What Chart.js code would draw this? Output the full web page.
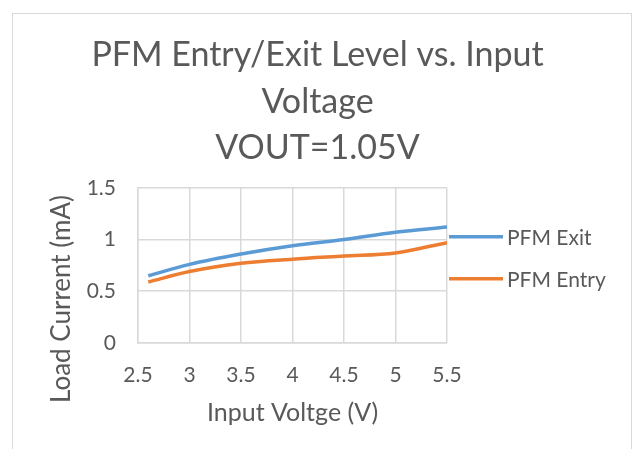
<!DOCTYPE html>
<html>
<head>
<meta charset="utf-8">
<script src="https://cdn.jsdelivr.net/npm/chart.js@4/dist/chart.umd.min.js"></script>
<style>
  html, body { margin: 0; padding: 0; background: #fff; }
  #wrap { position: relative; width: 634px; height: 449px; overflow: hidden; }
  #frame { position: absolute; left: 12px; top: 13px; width: 620px; height: 450px; border: 1px solid #d9d9d9; box-sizing: border-box; }
  canvas { position: absolute; left: 0; top: 0; }
</style>
</head>
<body>
<div id="wrap">
  <div id="frame"></div>
  <canvas id="chart" width="634" height="449"></canvas>
</div>
<script>
const inputVoltage = [2.6, 3, 3.5, 4, 4.5, 5, 5.5];
const pfmExit = [0.65, 0.76, 0.86, 0.94, 1.0, 1.07, 1.12];
const pfmEntry = [0.59, 0.69, 0.77, 0.81, 0.84, 0.87, 0.97];
const xTicks = [2.5, 3, 3.5, 4, 4.5, 5, 5.5];
const yTicks = [0, 0.5, 1, 1.5];
const titleLines = ["PFM Entry/Exit Level vs. Input", "Voltage", "VOUT=1.05V"];
const yTitle = 'Load Current (mA)';

const gris = '#595959';
const fonte = 'Lato, "Open Sans", sans-serif';

let pontos = (ys) => inputVoltage.map((x, i) => ({ x: x, y: ys[i] }));

// legenda e titulo do eixo y desenhados a mao
const extras = {
    id: 'extras',
    afterDraw(chart) {
        const c = chart.ctx;
        const area = chart.chartArea;
        const x0 = area.right + 2;
        const ys = [area.top + 49, area.top + 91];
        c.save();
        c.font = '21px ' + fonte;
        c.textBaseline = 'middle';
        c.textAlign = 'left';
        chart.data.datasets.forEach((ds, i) => {
            c.strokeStyle = ds.borderColor;
            c.lineWidth = 3.5;
            c.beginPath();
            c.moveTo(x0, ys[i]);
            c.lineTo(x0 + 54, ys[i]);
            c.stroke();
            c.fillStyle = gris;
            c.fillText(ds.label, x0 + 58, ys[i] + 1);
        });
        // titulo do eixo y (o Excel o centra mais abaixo)
        c.translate(62, area.bottom - 44);
        c.rotate(-Math.PI / 2);
        c.font = '26px ' + fonte;
        c.textAlign = 'center';
        c.fillText(yTitle, 0, 0);
        c.restore();
    }
};

const ctx = document.getElementById('chart').getContext('2d');
let grafico = new Chart(ctx, {
    type: 'scatter',
    data: {
        datasets: [{
            label: 'PFM Exit',
            data: pontos(pfmExit),
            showLine: true,
            borderColor: '#5b9bd5',
            backgroundColor: '#5b9bd5',
            borderWidth: 3.5,
            pointRadius: 0,
            cubicInterpolationMode: 'monotone'
        }, {
            label: 'PFM Entry',
            data: pontos(pfmEntry),
            showLine: true,
            borderColor: '#ed7d31',
            backgroundColor: '#ed7d31',
            borderWidth: 3.5,
            pointRadius: 0,
            cubicInterpolationMode: 'monotone'
        }]
    },
    options: {
        responsive: false,
        animation: false,
        layout: { padding: { left: 44, right: 43, top: 32, bottom: 17 } },
        plugins: {
            title: {
                display: true,
                text: titleLines,
                color: gris,
                font: { family: fonte, size: 34, weight: 'normal', lineHeight: 1.37 },
                padding: { top: 0, bottom: 16 }
            },
            legend: { display: false },
            tooltip: { enabled: false }
        },
        scales: {
            x: {
                type: 'linear',
                min: 2.5,
                max: 5.5,
                afterBuildTicks: (ax) => { ax.ticks = xTicks.map(v => ({ value: v })); },
                afterFit: (s) => { s.height = 89; },
                ticks: {
                    color: gris,
                    font: { family: fonte, size: 21 },
                    padding: 20,
                    maxRotation: 0,
                    callback: (v) => String(v)
                },
                grid: { color: '#d9d9d9', lineWidth: 1.5, drawTicks: false },
                border: { color: '#d9d9d9', width: 1.5 },
                title: {
                    display: true,
                    text: 'Input Voltge (V)',
                    color: gris,
                    font: { family: fonte, size: 25 },
                    padding: { top: 4, bottom: 4 }
                }
            },
            y: {
                min: 0,
                max: 1.5,
                afterBuildTicks: (ax) => { ax.ticks = yTicks.map(v => ({ value: v })); },
                afterFit: (s) => { s.width = 94; },
                ticks: {
                    color: gris,
                    font: { family: fonte, size: 21 },
                    padding: 22,
                    callback: (v) => String(v)
                },
                grid: { color: '#d9d9d9', lineWidth: 1.5, drawTicks: false },
                border: { color: '#d9d9d9', width: 1.5 }
            },
            // espaco vazio a direita para a legenda
            espaco: {
                type: 'linear',
                position: 'right',
                display: true,
                afterFit: (s) => { s.width = 144; },
                ticks: { display: false },
                grid: { display: false },
                border: { display: false }
            }
        }
    },
    plugins: [extras]
});
</script>
</body>
</html>
